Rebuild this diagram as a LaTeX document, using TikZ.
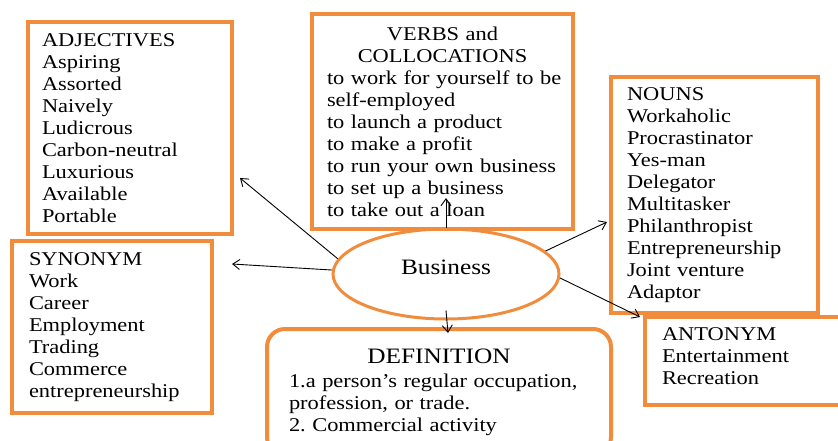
\documentclass[tikz,border=0pt]{standalone}
\usepackage{fontspec}
\setmainfont{Liberation Serif}[FakeStretch=1.15]
\usepackage{xcolor}
\usetikzlibrary{positioning, arrows.meta, shapes.geometric}
\definecolor{boxorange}{RGB}{240,140,60}
\newcommand{\midline}[1]{\leavevmode\hbox to\hsize{\hfil #1\hfil}}

\begin{document}
\begin{tikzpicture}[x=1pt, y=-1pt,
    wordbox/.style={draw=boxorange, line width=4pt, rectangle, anchor=north west, align=left, font=\fontsize{19.5}{22}\selectfont},
    defbox/.style={wordbox, rounded corners=18pt},
    topic/.style={draw=boxorange, line width=3pt, ellipse, minimum width=226pt, minimum height=90pt, font=\fontsize{22}{24}\selectfont, text depth=14pt},
    link/.style={-{Straight Barb[length=7pt,width=10pt]}, line width=0.9pt},
]
\useasboundingbox (0,0) rectangle (838,440);

% Word boxes
\node[wordbox, inner xsep=14pt, text width=176pt, minimum height=212pt] (adj) at (26,20)
  {ADJECTIVES\\Aspiring\\Assorted\\Naively\\Ludicrous\\Carbon-neutral\\Luxurious\\Available\\Portable};
\node[wordbox, inner xsep=15pt, text width=231pt, minimum height=215pt] (verbs) at (310,12)
  {\midline{VERBS and}\\
   \midline{COLLOCATIONS}\\
   \mbox{to work for yourself to be}\\self-employed\\to launch a product\\to make a profit\\
   to run your own business\\to set up a business\\to take out a loan};
\node[wordbox, inner xsep=16pt, text width=175pt, minimum height=236pt] (nouns) at (609,75)
  {NOUNS\\Workaholic\\Procrastinator\\Yes-man\\Delegator\\Multitasker\\Philanthropist\\
   Entrepreneurship\\Joint venture\\Adaptor};
\node[wordbox, inner xsep=17pt, text width=166pt, minimum height=172pt] (syn) at (10,239)
  {SYNONYM\\Work\\Career\\Employment\\Trading\\Commerce\\entrepreneurship};
\node[wordbox, inner xsep=17pt, text width=173pt, minimum height=88pt] (ant) at (643,315)
  {ANTONYM\\Entertainment\\Recreation\\[-12pt]\mbox{}};
\node[defbox, inner xsep=22pt, text width=300pt, minimum height=126pt] (def) at (265,327)
  {\midline{\fontsize{22}{24}\selectfont DEFINITION}\\[2pt]
   1.a person's regular occupation,\\profession, or trade.\\2.\ Commercial activity};

% Centre word
\node[topic] (biz) at (446,274) {Business};

% Arrow ends
\coordinate (adjtip) at (240,178);
\coordinate (syntip) at (232,264);
\coordinate (verbtip) at (446,198);
\coordinate (nountip) at (607,222);
\coordinate (anttip) at (640,317);
\coordinate (deftip) at (448,333);

% Links out of the centre word
\draw[link] (biz.172) -- (adjtip);
\draw[link] (biz.178) -- (syntip);
\draw[link] (biz.north) -- (verbtip);
\draw[link] (biz.13) -- (nountip);
\draw[link] (biz.-2) -- (anttip);
\draw[link] ([yshift=10pt]biz.south) -- (deftip);
\end{tikzpicture}
\end{document}
